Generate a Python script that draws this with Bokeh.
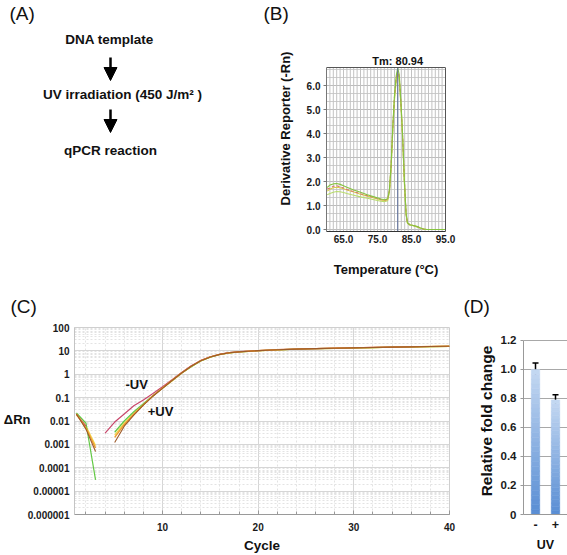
from bokeh.plotting import figure
from bokeh.layouts import column, row
from bokeh.models import (Range1d, FactorRange, FixedTicker, Label, Span, Arrow, NormalHead,
                          ColumnDataSource, Whisker, TeeHead, PrintfTickFormatter,
                          LinearAxis, LogAxis)
from bokeh.core.properties import value
from bokeh.embed import file_html
from bokeh.resources import INLINE

FONT = "Liberation Sans"
nan = float("nan")

# ---------------- data ----------------
a_steps = ["DNA template", "UV irradiation (450 J/m\u00b2 )", "qPCR reaction"]

b_temp = [60.2, 61, 62, 63, 64, 65, 66, 68, 70, 72, 74, 76, 77, 78,
          78.5, 79, 79.5, 80, 80.5, 80.94, 81.4, 81.9, 82.4, 82.9, 83.4, 83.8,
          84.5, 85.5, 86.5, 87.5, 88.5, 89.5, 91, 93, 95]
b_green1 = [1.75, 1.85, 1.9, 1.92, 1.88, 1.82, 1.76, 1.65, 1.55, 1.45, 1.36, 1.27, 1.24, 1.28,
            1.65, 2.7, 4.3, 5.6, 6.4, 6.72, 6.45, 5.3, 3.9, 2.1, 0.7, 0.28,
            0.2, 0.17, 0.13, 0.07, 0.02, 0.0, 0.0, 0.0, 0.0]
b_yellow = [1.6, 1.68, 1.74, 1.76, 1.74, 1.7, 1.65, 1.56, 1.47, 1.39, 1.31, 1.23, 1.2, 1.24,
            1.6, 2.6, 4.2, 5.5, 6.25, 6.55, 6.3, 5.2, 3.8, 2.0, 0.65, 0.27,
            0.2, 0.17, 0.12, 0.06, 0.02, 0.0, 0.0, 0.0, 0.0]
b_red = [1.7, 1.72, 1.8, 1.82, 1.78, 1.73, 1.67, 1.58, 1.49, 1.41, 1.33, 1.25, 1.22, 1.26,
         1.62, 2.65, 4.25, 5.55, 6.3, 6.6, 6.35, 5.25, 3.85, 2.05, 0.68, 0.27,
         0.2, 0.17, 0.13, 0.07, 0.02, 0.0, 0.0, 0.0, 0.0]
b_green2 = [1.45, 1.5, 1.55, 1.58, 1.57, 1.54, 1.5, 1.43, 1.36, 1.3, 1.24, 1.18, 1.16, 1.2,
            1.55, 2.55, 4.1, 5.4, 6.2, 6.5, 6.25, 5.15, 3.75, 1.95, 0.62, 0.26,
            0.19, 0.16, 0.12, 0.06, 0.02, 0.0, 0.0, 0.0, 0.0]
b_tm = 80.94
b_xmin, b_xmax = 60, 95
b_ymin, b_ymax = -0.0833, 6.75
b_xticks = [65, 75, 85, 95]
b_xgrid = list(range(60, 96))
b_yticks = [0, 1, 2, 3, 4, 5, 6]
b_ygrid_minor = [i / 3 for i in range(0, 21)]

c_cycle = [1, 2, 3, 4, 5, 6, 7, 8, 9, 10, 11, 12, 13, 14, 15, 16, 17, 18, 19, 20,
           22, 24, 26, 28, 30, 32, 34, 36, 38, 40]
c_red = [0.019, 0.006, nan, 0.003, 0.009, 0.02, 0.045, 0.08, 0.15, 0.29, 0.58, 1.18, 2.3, 3.9,
         5.6, 7.2, 8.4, 9.2, 9.8, 10.3, 11.2, 12.0, 12.6, 13.1, 13.6, 14.1, 14.6, 15.0, 15.4, 15.8]
c_orange = [0.02, 0.005, 0.0007, nan, 0.002, 0.007, 0.02, 0.05, 0.12, 0.26, 0.55, 1.15, 2.2, 3.8,
            5.5, 7.1, 8.3, 9.1, 9.7, 10.2, 11.1, 11.9, 12.5, 13.0, 13.5, 14.0, 14.5, 14.9, 15.3, 15.7]
c_brown = [0.02, 0.0045, 0.0005, nan, 0.0012, 0.006, 0.018, 0.048, 0.115, 0.25, 0.54, 1.13, 2.2, 3.8,
           5.5, 7.1, 8.3, 9.1, 9.7, 10.2, 11.1, 11.9, 12.5, 13.0, 13.5, 14.0, 14.5, 14.9, 15.3, 15.7]
c_yellow = [0.018, 0.006, 0.0009, nan, 0.0025, 0.008, 0.02, 0.05, 0.12, 0.25, 0.52, 1.1, 2.1, 3.7,
            5.4, 7.0, 8.2, 9.0, 9.6, 10.1, 11.0, 11.8, 12.4, 12.9, 13.4, 13.9, 14.4, 14.8, 15.2, 15.6]
c_green = [0.022, 0.008, 0.00003, nan, 0.0033, 0.01, 0.025, 0.055, 0.12, 0.26, 0.54, 1.12, 2.1, 3.7,
           5.4, 7.0, 8.2, 9.0, 9.6, 10.1, 11.0, 11.8, 12.4, 12.9, 13.4, 13.9, 14.4, 14.8, 15.2, 15.6]
c_xticks = [10, 20, 30, 40]
c_ytick_vals = [1e-6, 1e-5, 1e-4, 1e-3, 1e-2, 1e-1, 1, 10, 100]
c_ytick_labels = ["0.000001", "0.00001", "0.0001", "0.001", "0.01", "0.1", "1", "10", "100"]
c_ylabel_at = 0.012

d_cats = ["-", "+"]
d_vals = [1.0, 0.79]
d_err = [0.045, 0.035]
d_ytick_vals = [0, 0.2, 0.4, 0.6, 0.8, 1.0, 1.2]
d_ytick_labels = ["0", "0.2", "0.4", "0.6", "0.8", "1.0", "1.2"]
d_ymax = 1.2


def style_axis(ax, size="10px"):
    ax.major_label_text_font = FONT
    ax.major_label_text_font_style = "bold"
    ax.major_label_text_font_size = size
    ax.major_label_text_color = "#1a1a1a"
    ax.axis_label_text_font = FONT
    ax.axis_label_text_font_style = "bold"
    ax.axis_label_text_color = "#111111"
    ax.minor_tick_out = 0
    ax.minor_tick_in = 0
    ax.major_tick_in = 0


def set_title(p, text, offset, standoff):
    t = p.title
    t.text = text
    t.align = "left"
    t.vertical_align = "middle"
    t.offset = offset
    t.standoff = standoff
    t.text_font = FONT
    t.text_font_style = "normal"
    t.text_font_size = "19px"
    t.text_color = "#111111"


common = dict(output_backend="svg", toolbar_location=None)

# ---------------- panel A ----------------
fa = figure(width=263, height=285, x_range=Range1d(0, 263), y_range=Range1d(231, 25),
            x_axis_type=None, y_axis_type=None, min_border_left=0, min_border_right=0,
            min_border_top=25, min_border_bottom=54, **common)
fa.outline_line_color = None
set_title(fa, "(A)", 9, 1.5)
fa.text(x=[109, 122, 110], y=[39, 94, 150], text=a_steps, text_font=value(FONT),
        text_font_style="bold", text_font_size="13.5px", text_align="center",
        text_baseline="middle", text_color="#111111")
for y0, y1 in [(57, 80), (109, 132)]:
    fa.add_layout(Arrow(end=NormalHead(size=13, fill_color="black", line_color="black"),
                        x_start=110, y_start=y0, x_end=110, y_end=y1,
                        line_width=2.5, line_color="black"))

# ---------------- panel B ----------------
b_frame_top = b_ymin + 206 / 24.0
fb = figure(width=304, height=285, x_range=Range1d(b_xmin, b_xmax),
            y_range=Range1d(b_ymin, b_frame_top),
            min_border_left=63, min_border_right=122, min_border_top=25, min_border_bottom=54,
            **common)
set_title(fb, "(B)", -63, 1.5)
fb.outline_line_color = None
fb.xgrid.grid_line_color = None
fb.ygrid.grid_line_color = "#bcbcbc"
fb.ygrid.minor_grid_line_color = "#cdcdcd"
fb.xaxis.ticker = FixedTicker(ticks=b_xticks)
fb.yaxis.ticker = FixedTicker(ticks=b_yticks, minor_ticks=b_ygrid_minor)
fb.xaxis.formatter = PrintfTickFormatter(format="%.1f")
fb.yaxis.formatter = PrintfTickFormatter(format="%.1f")
for ax in (fb.xaxis[0], fb.yaxis[0]):
    style_axis(ax)
    ax.axis_label_text_font_size = "13px"
fb.xaxis.major_tick_out = 0
fb.yaxis.major_tick_out = 3
fb.xaxis.major_label_standoff = 3
fb.yaxis.major_label_standoff = 3
fb.xaxis.axis_label = "Temperature (\u00b0C)"
fb.yaxis.axis_label = "Derivative Reporter (-Rn)"
fb.xaxis.axis_label_standoff = 16
fb.yaxis.axis_label_standoff = 11
fb.yaxis.bounds = (b_ymin, b_ymax)
fb.xaxis.axis_line_color = "#333333"
fb.yaxis.axis_line_color = "#777777"
fb.yaxis.major_tick_line_color = "#777777"
rax = LinearAxis(bounds=(b_ymin, b_ymax), ticker=FixedTicker(ticks=[]),
                 axis_line_color="#555555", major_tick_out=0, major_tick_in=0,
                 minor_tick_out=0, minor_tick_in=0, major_label_text_font_size="0px")
fb.add_layout(rax, "right")
fb.segment(x0=b_xgrid, y0=[b_ymin] * len(b_xgrid), x1=b_xgrid, y1=[b_ymax] * len(b_xgrid),
           line_color="#c2c2c2", line_width=1)
fb.add_layout(Span(location=b_ymax, dimension="width", line_color="#555555", line_width=1))

fb.line(b_temp, b_green2, line_color="#b9dc6e", line_width=1.1)
fb.line(b_temp, b_yellow, line_color="#d9cf4f", line_width=1.1)
fb.line(b_temp, b_red, line_color="#d8766b", line_width=1.1, line_dash="3 2")
fb.line(b_temp, b_green1, line_color="#86c440", line_width=1.1)
fb.segment(x0=[b_tm], y0=[b_ymin], x1=[b_tm], y1=[b_ymax], line_color="#5d6f9c", line_width=1)
fb.add_layout(Label(x=b_tm, y=b_ymin + (231 - 60) / 24.0, text=f"Tm: {b_tm:.2f}",
                    text_align="center", text_baseline="middle", text_font=FONT,
                    text_font_style="bold", text_font_size="11px", text_color="#111111"))

# ---------------- panel C ----------------
fc = figure(width=460, height=270, x_range=Range1d(0.8, 40), y_range=Range1d(1e-6, 100),
            y_axis_type="log", min_border_left=74, min_border_right=11,
            min_border_top=42, min_border_bottom=40, **common)
set_title(fc, "(C)", -64, 18.5)
fc.outline_line_color = "#cfcfcf"
fc.xaxis.ticker = FixedTicker(ticks=c_xticks, minor_ticks=list(range(2, 41, 2)))
fc.yaxis.ticker = FixedTicker(ticks=c_ytick_vals,
                              minor_ticks=[k * 10.0 ** e for e in range(-6, 2) for k in range(2, 10)])
fc.yaxis.major_label_overrides = dict(zip(c_ytick_vals, c_ytick_labels))
for ax in (fc.xaxis[0], fc.yaxis[0]):
    style_axis(ax)
    ax.axis_label_text_font_size = "13.5px"
fc.xaxis.major_tick_in = 4
fc.xaxis.major_tick_out = 0
fc.xaxis.minor_tick_in = 3
fc.xaxis.major_tick_line_color = "#999999"
fc.xaxis.minor_tick_line_color = "#999999"
fc.yaxis.major_tick_out = 0
fc.yaxis.minor_tick_line_color = None
fc.xaxis.major_label_standoff = 8
fc.yaxis.major_label_standoff = 5
fc.xaxis.axis_label = "Cycle"
fc.xaxis.axis_label_standoff = 4
fc.xaxis.axis_line_color = "#9a9a9a"
fc.yaxis.axis_line_color = "#c4c4c4"
for g in (fc.xgrid[0], fc.ygrid[0]):
    g.grid_line_color = "#d6d6d6"
    g.minor_grid_line_color = "#e3e3e3"
    g.minor_grid_line_dash = "2 2"
lab_ax = LogAxis(ticker=FixedTicker(ticks=[c_ylabel_at]),
                 major_label_overrides={c_ylabel_at: "\u0394Rn"},
                 axis_line_color=None, major_tick_line_color=None, minor_tick_line_color=None,
                 major_tick_out=0, minor_tick_out=0, major_label_standoff=-6,
                 major_label_text_font=FONT, major_label_text_font_style="bold",
                 major_label_text_font_size="13px", major_label_text_color="#111111")
fc.add_layout(lab_ax, "left")

fc.line(c_cycle, c_yellow, line_color="#f2d54c", line_width=1.3)
fc.line(c_cycle, c_green, line_color="#62c944", line_width=1.2)
fc.line(c_cycle, c_red, line_color="#c8486c", line_width=1.2)
fc.line(c_cycle, c_orange, line_color="#ee9a2e", line_width=1.4)
fc.line(c_cycle, c_brown, line_color="#9c5a2a", line_width=1.1)
fc.add_layout(Label(x=7.3, y=0.35, text="-UV", text_align="center", text_baseline="middle",
                    text_font=FONT, text_font_style="bold", text_font_size="13px",
                    text_color="#111111"))
fc.add_layout(Label(x=9.8, y=0.025, text="+UV", text_align="center", text_baseline="middle",
                    text_font=FONT, text_font_style="bold", text_font_size="13px",
                    text_color="#111111"))

# ---------------- panel D ----------------
d_top = d_ymax + 13 * d_ymax / 175.0
fd = figure(width=107, height=270,
            x_range=FactorRange(factors=d_cats, range_padding=0.1, range_padding_units="absolute"),
            y_range=Range1d(0, d_top), min_border_left=63, min_border_right=0,
            min_border_top=42, min_border_bottom=40, **common)
set_title(fd, "(D)", -60, 18.5)
fd.outline_line_color = None
fd.xgrid.grid_line_color = None
fd.ygrid.grid_line_color = "#a8a8a8"
fd.yaxis.ticker = FixedTicker(ticks=d_ytick_vals)
fd.yaxis.major_label_overrides = dict(zip(d_ytick_vals, d_ytick_labels))
fd.yaxis.bounds = (0, d_ymax)
style_axis(fd.yaxis[0], size="11.5px")
style_axis(fd.xaxis[0], size="12.5px")
fd.yaxis.axis_label = "Relative fold change"
fd.yaxis.axis_label_text_font_size = "15.5px"
fd.yaxis.axis_label_standoff = 3
fd.yaxis.major_tick_out = 3
fd.yaxis.major_label_standoff = 4
fd.yaxis.axis_line_color = "#999999"
fd.yaxis.major_tick_line_color = "#999999"
fd.xaxis.axis_label = "UV"
fd.xaxis.axis_label_text_font_size = "12.5px"
fd.xaxis.axis_label_standoff = 6
fd.xaxis.major_tick_out = 0
fd.xaxis.major_label_standoff = 5
fd.xaxis.axis_line_color = "#999999"

top_rgb = (196, 216, 242)
bot_rgb = (88, 141, 211)
N = 30
seg_x, seg_b, seg_t, seg_c = [], [], [], []
for cat, v in zip(d_cats, d_vals):
    for k in range(N):
        f = (k + 0.5) / N
        rgb = tuple(int(round(bot_rgb[j] + (top_rgb[j] - bot_rgb[j]) * f)) for j in range(3))
        seg_x.append(cat)
        seg_b.append(v * k / N)
        seg_t.append(v * (k + 1) / N)
        seg_c.append("#%02x%02x%02x" % rgb)
fd.vbar(x=seg_x, bottom=seg_b, top=seg_t, width=0.42, fill_color=seg_c, line_color=seg_c,
        line_width=0.6)
err_src = ColumnDataSource(dict(x=d_cats,
                                upper=[v + e for v, e in zip(d_vals, d_err)],
                                lower=[v - e for v, e in zip(d_vals, d_err)]))
fd.add_layout(Whisker(source=err_src, base="x", upper="upper", lower="lower",
                      line_color="black", line_width=1.5,
                      upper_head=TeeHead(size=6, line_width=1.5, line_color="black"),
                      lower_head=TeeHead(size=6, line_width=1.5, line_color="black")))

layout = column(row(fa, fb), row(fc, fd))
open("out.html", "w").write(file_html(layout, INLINE))
